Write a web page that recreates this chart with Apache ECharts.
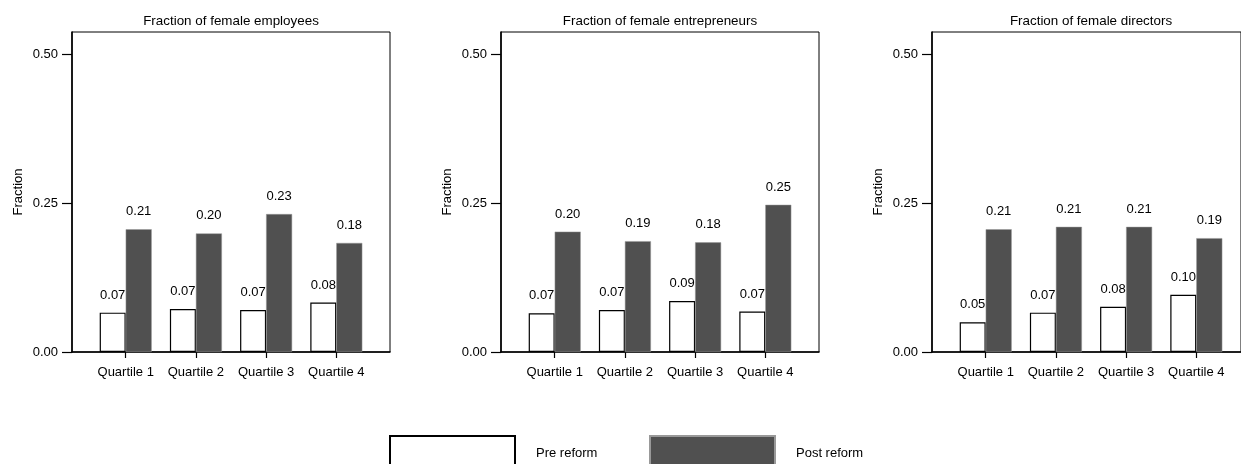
<!DOCTYPE html>
<html>
<head>
<meta charset="utf-8">
<script src="https://cdn.jsdelivr.net/npm/echarts@6/dist/echarts.min.js"></script>
<style>
html,body{margin:0;padding:0;background:#fff;}
#chart{width:1241px;height:464px;}
</style>
</head>
<body>
<div id="chart"></div>
<script>
const categories = ['Quartile 1', 'Quartile 2', 'Quartile 3', 'Quartile 4'];
const panelTitles = ['Fraction of female employees', 'Fraction of female entrepreneurs', 'Fraction of female directors'];
const yTicks = [0, 0.25, 0.5];
const seriesNames = ['Pre reform', 'Post reform'];

const employeesPre  = [0.066, 0.072, 0.0705, 0.083];
const employeesPost = [0.206, 0.199, 0.2315, 0.183];
const entrepreneursPre  = [0.065, 0.0705, 0.0856, 0.068];
const entrepreneursPost = [0.202, 0.186, 0.184, 0.247];
const directorsPre  = [0.050, 0.066, 0.076, 0.096];
const directorsPost = [0.206, 0.210, 0.210, 0.191];

const panelPre = [employeesPre, entrepreneursPre, directorsPre];
const panelPost = [employeesPost, entrepreneursPost, directorsPost];

const FONT = 'Liberation Sans, Arial, Helvetica, sans-serif';
const panelLefts = [72, 501, 932];
const frameW = 318, pad = 18.6, plotTop = 32, plotH = 320;
const yMax = 0.537;

const grids = [], xAxes = [], yAxes = [], series = [], titles = [];
panelLefts.forEach((L, i) => {
  const gFrame = grids.length;
  grids.push({left: L, top: plotTop, width: frameW, height: plotH, show: true, borderColor: '#000', borderWidth: 1, backgroundColor: 'transparent'});
  const gBars = grids.length;
  grids.push({left: L + pad, top: plotTop, width: frameW - 2 * pad, height: plotH});

  titles.push({text: panelTitles[i], left: L + frameW / 2, top: 15, textAlign: 'center', padding: 0,
    textStyle: {fontFamily: FONT, fontSize: 13.4, fontWeight: 'normal', color: '#000'}});

  // frame axes
  xAxes.push({gridIndex: gFrame, type: 'value', min: 0, max: 1,
    axisLine: {show: true, onZero: false, lineStyle: {color: '#000', width: 1.6}},
    axisTick: {show: false}, axisLabel: {show: false}, splitLine: {show: false}});
  yAxes.push({gridIndex: gFrame, type: 'value', min: 0, max: yMax,
    name: 'Fraction', nameLocation: 'middle', nameGap: 47,
    nameTextStyle: {fontFamily: FONT, fontSize: 13, color: '#000'},
    axisLine: {show: true, lineStyle: {color: '#000', width: 1.6}},
    axisTick: {show: true, length: 10, customValues: yTicks, lineStyle: {color: '#000', width: 1.2}},
    axisLabel: {customValues: yTicks, margin: 14, fontFamily: FONT, fontSize: 13, color: '#000',
      formatter: v => v.toFixed(2)},
    splitLine: {show: false}});

  // bar axes
  const xB = xAxes.length;
  xAxes.push({gridIndex: gBars, type: 'category', data: categories,
    axisLine: {show: false},
    axisTick: {show: true, alignWithLabel: true, interval: 0, length: 6, lineStyle: {color: '#000', width: 1.2}},
    axisLabel: {interval: 0, margin: 14, fontFamily: FONT, fontSize: 13, color: '#000'},
    splitLine: {show: false}});
  const yB = yAxes.length;
  yAxes.push({gridIndex: gBars, type: 'value', min: 0, max: yMax, show: false, splitLine: {show: false}});

  const lbl = {show: true, position: 'top', distance: 11, fontFamily: FONT, fontSize: 13, color: '#000',
    formatter: p => p.value.toFixed(2)};
  series.push({name: seriesNames[0], type: 'bar', xAxisIndex: xB, yAxisIndex: yB, data: panelPre[i],
    barWidth: 26, barGap: '0%', z: 2,
    itemStyle: {color: '#fff', borderColor: '#000', borderWidth: 1.2}, label: lbl});
  series.push({name: seriesNames[1], type: 'bar', xAxisIndex: xB, yAxisIndex: yB, data: panelPost[i],
    barWidth: 26, barGap: '0%', z: 5,
    itemStyle: {color: '#505050', borderColor: '#999', borderWidth: 0.5}, label: lbl});
});

const legendBase = {top: 435, padding: 0, itemWidth: 125, itemHeight: 35, itemGap: 0,
  textStyle: {fontFamily: FONT, fontSize: 13, color: '#000', padding: [0, 0, 0, 16]},
  icon: 'rect', selectedMode: false};

const chart = echarts.init(document.getElementById('chart'), null, {renderer: 'canvas'});
chart.setOption({
  animation: false,
  backgroundColor: '#fff',
  title: titles,
  grid: grids,
  xAxis: xAxes,
  yAxis: yAxes,
  legend: [
    Object.assign({}, legendBase, {left: 389, data: [seriesNames[0]]}),
    Object.assign({}, legendBase, {left: 649, data: [seriesNames[1]]})
  ],
  series: series
});
</script>
</body>
</html>
